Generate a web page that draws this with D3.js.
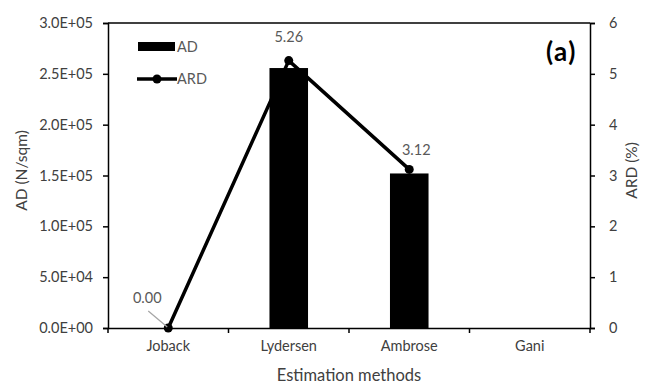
<!DOCTYPE html>
<html>
  <head>
    <meta charset="UTF-8" />
    <title>AD and ARD by estimation method</title>
    <script src="https://cdnjs.cloudflare.com/ajax/libs/d3/7.8.5/d3.min.js"></script>
    <style>
      body {
        margin: 0;
        padding: 0;
        background: #fff;
      }
      svg text {
        font-family: Lato, "Open Sans", sans-serif;
      }
      .tick text {
        font-size: 14.5px;
        fill: #404040;
      }
      .axis-title {
        font-size: 15.5px;
        fill: #404040;
      }
      .dlabel {
        font-size: 14.5px;
        fill: #595959;
        text-anchor: middle;
      }
      .legend text {
        font-size: 14.5px;
        fill: #595959;
      }
    </style>
  </head>

  <body>
    <svg id="chart" width="645" height="385"></svg>

    <script>
      // values
      const methods = ["Joback", "Lydersen", "Ambrose", "Gani"];
      const adValues = [null, 255700, 152000, null];   // N/sqm
      const ardValues = [0.00, 5.26, 3.12, null];      // %
      const adTicks = [0, 5e4, 1e5, 1.5e5, 2e5, 2.5e5, 3e5];
      const ardTicks = [0, 1, 2, 3, 4, 5, 6];

      const svg = d3.select("#chart");
      const margin = {top: 23, right: 55, bottom: 57, left: 108};
      const width = +svg.attr("width") - margin.left - margin.right;
      const height = +svg.attr("height") - margin.top - margin.bottom;

      const g = svg.append("g")
        .attr("transform", `translate(${margin.left},${margin.top})`);

      const x = d3.scaleBand()
        .domain(methods)
        .range([0, width]);

      const yLeft = d3.scaleLinear()
        .domain([0, 3e5])
        .range([height, 0]);

      const yRight = d3.scaleLinear()
        .domain([0, 6])
        .range([height, 0]);

      // excel style exponent labels, e.g. 2.5E+05
      function sciFmt(v) {
        if (v === 0) return "0.0E+00";
        const e = Math.floor(Math.log10(v));
        const m = v / Math.pow(10, e);
        return m.toFixed(1) + "E+" + String(e).padStart(2, "0");
      }

      // bars
      const barW = x.bandwidth() * 0.32;
      g.selectAll(".bar")
        .data(methods.map((m, i) => ({m, v: adValues[i]})).filter(d => d.v != null))
        .enter().append("rect")
        .attr("class", "bar")
        .attr("x", d => x(d.m) + (x.bandwidth() - barW) / 2)
        .attr("y", d => yLeft(d.v))
        .attr("width", barW)
        .attr("height", d => height - yLeft(d.v))
        .attr("fill", "#000");

      // top border of plot
      g.append("line")
        .attr("x1", 0).attr("x2", width)
        .attr("y1", 0).attr("y2", 0)
        .attr("stroke", "#000")
        .attr("stroke-width", 1.5);

      // axes
      const xAxis = g.append("g")
        .attr("transform", `translate(0,${height})`)
        .call(d3.axisBottom(x).tickSize(0).tickPadding(13));
      xAxis.select(".domain").attr("stroke-width", 1.5);
      // Excel puts the x ticks between categories
      xAxis.selectAll(".sep")
        .data(d3.range(methods.length + 1))
        .enter().append("line")
        .attr("class", "sep")
        .attr("x1", i => i * x.step())
        .attr("x2", i => i * x.step())
        .attr("y1", 0).attr("y2", 5)
        .attr("stroke", "#000")
        .attr("stroke-width", 1.5);

      const leftAxis = g.append("g")
        .call(d3.axisLeft(yLeft).tickValues(adTicks).tickFormat(sciFmt).tickSize(5).tickPadding(10));
      leftAxis.select(".domain").attr("stroke-width", 1.5);
      leftAxis.selectAll(".tick line").attr("stroke-width", 1.5);

      const rightAxis = g.append("g")
        .attr("transform", `translate(${width},0)`)
        .call(d3.axisRight(yRight).tickValues(ardTicks).tickFormat(d3.format("d")).tickSize(5).tickPadding(14));
      rightAxis.select(".domain").attr("stroke-width", 1.5);
      rightAxis.selectAll(".tick line").attr("stroke-width", 1.5);

      g.selectAll(".domain").attr("d", function() {
        return d3.select(this).attr("d").replace(/V-?6|H-?6/g, m => m[0] + "0");
      });

      // axis titles
      svg.append("text")
        .attr("class", "axis-title")
        .attr("text-anchor", "middle")
        .attr("transform", `translate(27,${margin.top + height / 2 - 5}) rotate(-90)`)
        .text("AD (N/sqm)");

      svg.append("text")
        .attr("class", "axis-title")
        .attr("text-anchor", "middle")
        .attr("transform", `translate(637,${margin.top + height / 2 - 5}) rotate(-90)`)
        .text("ARD (%)");

      svg.append("text")
        .attr("class", "axis-title")
        .attr("text-anchor", "middle")
        .attr("font-size", "16.5px")
        .style("font-size", "16.5px")
        .attr("x", margin.left + width / 2)
        .attr("y", 381)
        .text("Estimation methods");

      // ARD line
      const ardPts = methods.map((m, i) => ({m, v: ardValues[i]})).filter(d => d.v != null);
      const line = d3.line()
        .x(d => x(d.m) + x.bandwidth() / 2)
        .y(d => yRight(d.v));

      g.append("path")
        .datum(ardPts)
        .attr("d", line)
        .attr("fill", "none")
        .attr("stroke", "#000")
        .attr("stroke-width", 3.5)
        .attr("stroke-linejoin", "round");

      g.selectAll(".pt")
        .data(ardPts)
        .enter().append("circle")
        .attr("class", "pt")
        .attr("cx", d => x(d.m) + x.bandwidth() / 2)
        .attr("cy", d => yRight(d.v))
        .attr("r", 4.5)
        .attr("fill", "#000");

      // data labels, the zero one is pulled aside with a leader line
      const labelOffset = {Joback: [-21, -25], Lydersen: [0, -19], Ambrose: [7, -14]};
      ardPts.forEach(d => {
        const cx = x(d.m) + x.bandwidth() / 2;
        const cy = yRight(d.v);
        const [dx, dy] = labelOffset[d.m];
        if (d.m === "Joback") {
          g.append("line")
            .attr("x1", cx - 1).attr("y1", cy - 1)
            .attr("x2", cx - 20).attr("y2", cy - 17)
            .attr("stroke", "#a6a6a6")
            .attr("stroke-width", 1.2);
        }
        g.append("text")
          .attr("class", "dlabel")
          .attr("x", cx + dx)
          .attr("y", cy + dy)
          .text(d.v.toFixed(2));
      });

      // panel tag
      svg.append("text")
        .attr("x", 577)
        .attr("y", 61)
        .attr("text-anchor", "end")
        .attr("font-size", "26px")
        .attr("font-weight", "bold")
        .attr("letter-spacing", "1.5px")
        .attr("fill", "#000")
        .text("(a)");

      // legend
      const legend = svg.append("g").attr("class", "legend");
      legend.append("rect")
        .attr("x", 138).attr("y", 42)
        .attr("width", 37).attr("height", 9)
        .attr("fill", "#000");
      legend.append("text")
        .attr("x", 177).attr("y", 52)
        .text("AD");
      legend.append("line")
        .attr("x1", 137).attr("x2", 177)
        .attr("y1", 79).attr("y2", 79)
        .attr("stroke", "#000")
        .attr("stroke-width", 3.5);
      legend.append("circle")
        .attr("cx", 157).attr("cy", 79)
        .attr("r", 4.5)
        .attr("fill", "#000");
      legend.append("text")
        .attr("x", 177).attr("y", 84)
        .text("ARD");
    </script>
  </body>
</html>
